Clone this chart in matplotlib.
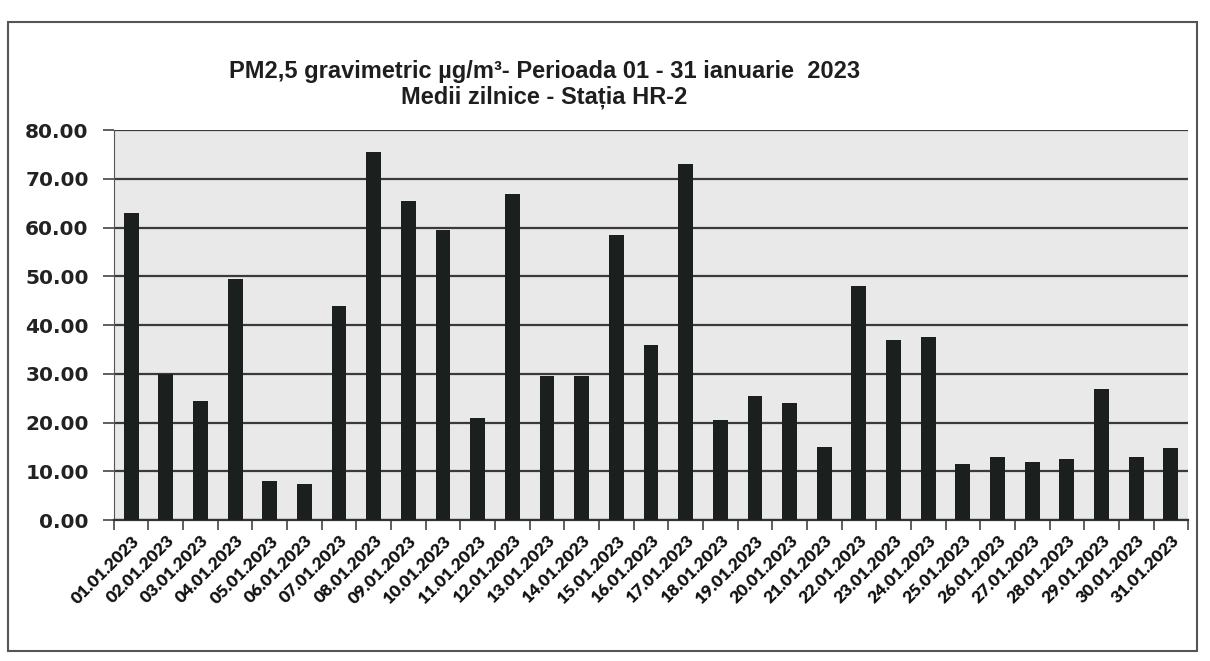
import numpy as np
import matplotlib.pyplot as plt
from matplotlib.patches import Rectangle

# daily means PM2.5, January 2023
days = ["%02d.01.2023" % d for d in range(1, 32)]
values = [63.0, 30.0, 24.5, 49.5, 8.0, 7.5, 44.0, 75.5, 65.5, 59.5,
          21.0, 67.0, 29.5, 29.5, 58.5, 36.0, 73.0, 20.5, 25.5, 24.0,
          15.0, 48.0, 37.0, 37.5, 11.5, 13.0, 12.0, 12.5, 27.0, 13.0, 14.8]
yticks = np.arange(0, 90, 10)

fig = plt.figure(figsize=(12.1, 6.61), dpi=100)
ax = fig.add_axes([0.094, 0.213, 0.888, 0.590])
ax.set_facecolor('#e9e9e9')

x = np.arange(len(days))
ax.bar(x, values, width=0.43, color='#1b1f1d', zorder=3)

ax.set_ylim(0, 80)
ax.set_xlim(-0.5, len(days) - 0.5)
ax.set_yticks(yticks)
ax.set_yticklabels(["%.2f" % v for v in yticks], fontsize=14.5, fontweight='bold',
                   family='DejaVu Sans', color='#222222')
ax.yaxis.grid(True, color='#3a3a3a', linewidth=1.6, zorder=1)
ax.tick_params(axis='y', length=8, width=1.2, color='#444444', pad=10)

# x ticks sit between the categories, labels under the bars
ax.set_xticks(np.arange(-0.5, len(days), 1.0))
ax.set_xticklabels([])
ax.set_xticks(x, minor=True)
ax.set_xticklabels(days, minor=True, rotation=45, ha='right', va='top',
                   rotation_mode='anchor', fontsize=12.5, fontweight='heavy',
                   family=['Lato', 'DejaVu Sans'], color='#111111')
ax.tick_params(axis='x', which='major', length=7, width=1.2, color='#444444')
ax.tick_params(axis='x', which='minor', length=0, pad=9)

for side in ['top', 'right']:
    ax.spines[side].set_visible(False)
ax.spines['left'].set_color('#555555')
ax.spines['bottom'].set_color('#333333')
ax.spines['bottom'].set_linewidth(1.6)

title_font = ['Liberation Sans Narrow', 'Liberation Sans', 'DejaVu Sans']
fig.text(0.450, 0.892, "PM2,5 gravimetric µg/m³- Perioada 01 - 31 ianuarie  2023",
         ha='center', va='center', fontsize=17, fontweight='bold',
         family=title_font, color='#1e1e1e')
fig.text(0.450, 0.853, "Medii zilnice - Stația HR-2",
         ha='center', va='center', fontsize=17, fontweight='bold',
         family=title_font, color='#1e1e1e')

# frame of the scanned chart
fig.patches.append(Rectangle((0.007, 0.015), 0.982, 0.952, transform=fig.transFigure,
                             fill=False, edgecolor='#555555', linewidth=1.5))

fig.savefig('out.png', dpi=100)
